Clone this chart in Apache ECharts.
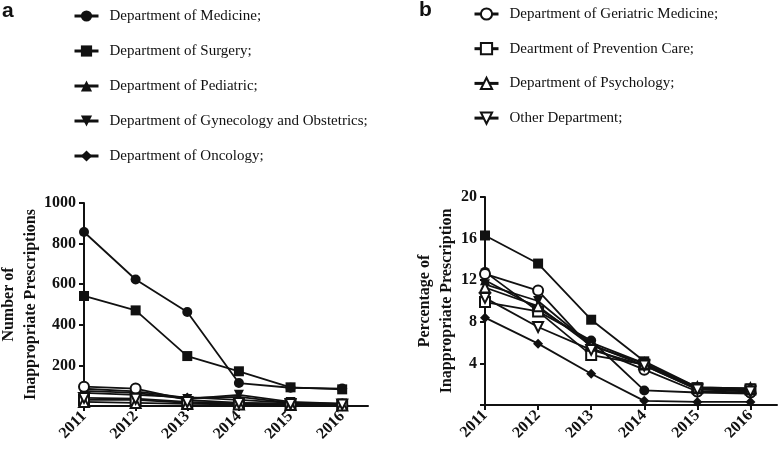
<!DOCTYPE html>
<html><head><meta charset="utf-8">
<script src="https://cdn.jsdelivr.net/npm/echarts@6/dist/echarts.min.js"></script>
<style>html,body{margin:0;padding:0;background:#fff}#c{width:778px;height:452px}</style>
</head><body><div id="c"></div>
<script>
var years = [2011, 2012, 2013, 2014, 2015, 2016];
var names = ['Department of Medicine;', 'Department of Surgery;', 'Department of Pediatric;',
  'Department of Gynecology and Obstetrics;', 'Department of Oncology;',
  'Department of Geriatric Medicine;', 'Deartment of Prevention Care;', 'Department of Psychology;', 'Other Department;'];
var legendA = names.slice(0, 5);
var legendB = names.slice(5);
// Panel a: number of inappropriate prescriptions
var countMedicine   = [857, 623, 463, 113, 90, 86];
var countSurgery    = [542, 471, 246, 171, 92, 82];
var countPediatric  = [85, 72, 40, 45, 15, 10];
var countGynecology = [75, 65, 35, 55, 20, 12];
var countOncology   = [65, 55, 42, 30, 15, 10];
var countGeriatric  = [95, 86, 30, 15, 10, 8];
var countPrevention = [30, 30, 15, 10, 6, 5];
var countPsychology = [20, 15, 10, 8, 5, 3];
var countOther      = [40, 36, 20, 15, 10, 8];
// Panel b: percentage of inappropriate prescription
var pctMedicine   = [12.8, 9.0, 6.2, 1.4, 1.2, 1.1];
var pctSurgery    = [16.3, 13.6, 8.2, 4.2, 1.7, 1.6];
var pctPediatric  = [12.0, 9.3, 6.0, 4.0, 1.6, 1.5];
var pctGynecology = [11.6, 10.0, 5.8, 3.8, 1.5, 1.4];
var pctOncology   = [8.4, 5.9, 3.0, 0.4, 0.3, 0.3];
var pctGeriatric  = [12.6, 11.0, 5.5, 3.4, 1.3, 1.2];
var pctPrevention = [9.9, 9.0, 4.8, 3.9, 1.6, 1.5];
var pctPsychology = [11.3, 9.5, 5.7, 4.0, 1.7, 1.6];
var pctOther      = [10.3, 7.5, 5.3, 3.8, 1.5, 1.3];
var yTicksA = [200, 400, 600, 800, 1000];
var yTicksB = [4, 8, 12, 16, 20];

var countData = [countMedicine, countSurgery, countPediatric, countGynecology, countOncology, countGeriatric, countPrevention, countPsychology, countOther];
var pctData = [pctMedicine, pctSurgery, pctPediatric, pctGynecology, pctOncology, pctGeriatric, pctPrevention, pctPsychology, pctOther];
var symbols = ['circle', 'rect', 'triangle', 'triangle', 'diamond', 'emptyCircle', 'emptyRect', 'emptyTriangle', 'emptyTriangle'];
var rotates = [0, 0, 0, 180, 0, 0, 0, 0, 180];
var sizes = [10, 10, 10, 10, 10, 10, 10, 10, 10];

function pairs(vals) { return years.map(function (y, i) { return [y, vals[i]]; }); }
var series = [];
[countData, pctData].forEach(function (set, p) {
  set.forEach(function (vals, k) {
    series.push({
      name: names[k], type: 'line', xAxisIndex: p, yAxisIndex: p,
      data: pairs(vals), symbol: symbols[k], symbolRotate: rotates[k], symbolSize: sizes[k],
      lineStyle: { color: '#111', width: 1.8 },
      itemStyle: { color: '#111', borderColor: '#111', borderWidth: k >= 5 ? 2 : 0 },
      animation: false
    });
  });
});

var axisFont = { fontFamily: 'Liberation Serif', fontWeight: 'bold', fontSize: 16, color: '#111' };
function xAxis(idx) {
  return {
    type: 'value', gridIndex: idx, min: 2011, max: 2016.5, interval: 1,
    axisLine: { lineStyle: { color: '#111', width: 2 } },
    axisTick: { length: 5, lineStyle: { color: '#111', width: 2 }, customValues: years },
    axisLabel: Object.assign({ rotate: 45, margin: 8, customValues: years, formatter: function (v) { return String(v); } }, axisFont),
    splitLine: { show: false }
  };
}
function yAxis(idx, max, interval, name, gap) {
  return {
    type: 'value', gridIndex: idx, min: 0, max: max, interval: interval,
    name: name, nameLocation: 'middle', nameGap: gap, nameMoveOverlap: false,
    nameTextStyle: Object.assign({ lineHeight: 22 }, axisFont),
    axisLine: { show: true, lineStyle: { color: '#111', width: 2 } },
    axisTick: { show: true, length: 5, lineStyle: { color: '#111', width: 2 } },
    axisLabel: Object.assign({ margin: 8, formatter: function (v) { return v === 0 ? '' : String(v); } }, axisFont),
    splitLine: { show: false }
  };
}
var legendText = { fontFamily: 'Liberation Serif', fontSize: 15, color: '#111', lineHeight: 20, padding: [0, 0, 0, 6] };
var option = {
  backgroundColor: '#fff',
  animation: false,
  grid: [
    { left: 84, top: 203, width: 284, height: 203, outerBoundsMode: 'none', containLabel: false },
    { left: 485, top: 197, width: 292, height: 208, outerBoundsMode: 'none', containLabel: false }
  ],
  xAxis: [xAxis(0), xAxis(1)],
  yAxis: [
    yAxis(0, yTicksA[yTicksA.length - 1], yTicksA[0], 'Number of\nInappropriate Prescriptions', 42),
    yAxis(1, yTicksB[yTicksB.length - 1], yTicksB[0], 'Percentage of\nInappropriate Prescription', 27)
  ],
  legend: [
    { data: legendA, orient: 'vertical', left: 73, top: 6, padding: 0, itemWidth: 24, itemHeight: 14, itemGap: 15,
      textStyle: legendText, lineStyle: { width: 3 }, selectedMode: false },
    { data: legendB, orient: 'vertical', left: 473, top: 4, padding: 0, itemWidth: 24, itemHeight: 14, itemGap: 14.7,
      textStyle: legendText, lineStyle: { width: 3 }, selectedMode: false }
  ],
  graphic: [
    { type: 'text', left: 2, top: 1, style: { text: 'a', font: 'bold 21px "Liberation Sans"', fill: '#111' } },
    { type: 'text', left: 419, top: 0, style: { text: 'b', font: 'bold 21px "Liberation Sans"', fill: '#111' } }
  ],
  series: series
};
var chart = echarts.init(document.getElementById('c'), null, { renderer: 'canvas' });
chart.setOption(option);
</script></body></html>
